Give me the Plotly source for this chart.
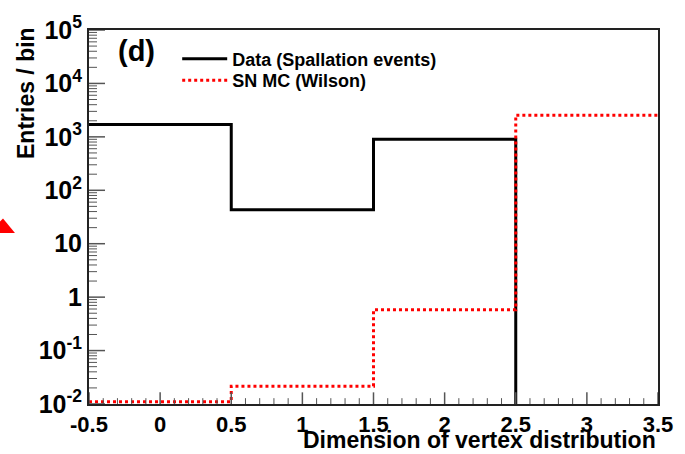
import plotly.graph_objects as go

# ---- data ----
bin_edges = [-0.5, 0.5, 1.5, 2.5, 3.5]
data_counts = [1700, 43, 900, 0]           # Data (Spallation events)
mc_counts = [0.011, 0.0215, 0.58, 2550]    # SN MC (Wilson)
y_tickvals = [1e-2, 1e-1, 1, 10, 1e2, 1e3, 1e4, 1e5]
y_ticktext = ["10<sup>-2</sup>", "10<sup>-1</sup>", "1", "10", "10<sup>2</sup>",
              "10<sup>3</sup>", "10<sup>4</sup>", "10<sup>5</sup>"]
x_tickvals = [-0.5, 0, 0.5, 1, 1.5, 2, 2.5, 3, 3.5]
x_ticktext = ["-0.5", "0", "0.5", "1", "1.5", "2", "2.5", "3", "3.5"]

FLOOR = 1e-4  # empty bins drawn below axis (clipped)


def step(vals):
    v = [c if c > 0 else FLOOR for c in vals]
    return v + [v[-1]]


# minor tick positions (styling only)
x_minor = [round(-0.5 + 0.1 * i, 2) for i in range(41)]
y_minor = [k * 10 ** e for e in range(-2, 5) for k in range(2, 10)]

FONT = "Liberation Sans"
TICKCOL = "#555"
PLOT_W, PLOT_H = 685 - 89 - 27, 454 - 19 - 50

fig = go.Figure()
fig.add_trace(go.Scatter(
    x=bin_edges, y=step(data_counts), mode="lines", line_shape="hv",
    line=dict(color="black", width=3),
    name="Data (Spallation events)", legend="legend"))
fig.add_trace(go.Scatter(
    x=bin_edges, y=step(mc_counts), mode="lines", line_shape="hv",
    line=dict(color="#ff0000", width=3, dash="dot"),
    name="SN MC (Wilson)", legend="legend2"))

leg_common = dict(xanchor="left", yanchor="middle", bgcolor="rgba(0,0,0,0)",
                  font=dict(size=18, family=FONT, weight="bold"), itemwidth=45)

fig.update_layout(
    width=685, height=454,
    margin=dict(l=89, r=27, t=19, b=50),
    paper_bgcolor="white", plot_bgcolor="white",
    font=dict(family=FONT, color="black", weight="bold"),
    showlegend=True,
    legend=dict(x=0.155, y=(404 - 49) / 385, **leg_common),
    legend2=dict(x=0.155, y=(404 - 71) / 385, **leg_common),
    xaxis=dict(range=[-0.5, 3.5], tickmode="array", tickvals=x_tickvals, ticktext=x_ticktext,
               ticks="", showline=True, linecolor="#222", linewidth=2, mirror=True,
               showgrid=False, zeroline=False, ticklabelstandoff=0,
               tickfont=dict(size=22, family=FONT, weight="bold")),
    yaxis=dict(type="log", range=[-2, 5], tickmode="array", tickvals=y_tickvals,
               ticktext=y_ticktext, ticks="",
               showline=True, linecolor="#222", linewidth=2, mirror=True,
               showgrid=False, zeroline=False,
               tickfont=dict(size=25, family=FONT, weight="bold")),
)

# inside tick marks (ROOT style), derived from the tick arrays
# (shape coordinates on a log axis are given in data values)
for v in x_tickvals:
    fig.add_shape(type="line", xref="x", yref="paper", x0=v, x1=v, y0=0, y1=12 / PLOT_H,
                  line=dict(color=TICKCOL, width=1.5), layer="above")
for v in x_minor:
    if v not in x_tickvals:
        fig.add_shape(type="line", xref="x", yref="paper", x0=v, x1=v, y0=0, y1=6 / PLOT_H,
                      line=dict(color=TICKCOL, width=1), layer="above")
for v in y_tickvals:
    fig.add_shape(type="line", xref="paper", yref="y", x0=0, x1=16 / PLOT_W,
                  y0=v, y1=v, line=dict(color=TICKCOL, width=1.5), layer="above")
for v in y_minor:
    fig.add_shape(type="line", xref="paper", yref="y", x0=0, x1=8 / PLOT_W,
                  y0=v, y1=v, line=dict(color=TICKCOL, width=1), layer="above")

# axis titles (ROOT style, aligned to the axis end)
fig.add_annotation(text="Dimension of vertex distribution", xref="paper", yref="paper",
                   x=1.0, y=0, xanchor="right", yanchor="bottom", yshift=-51,
                   showarrow=False, font=dict(size=23, family=FONT, weight="bold"))
fig.add_annotation(text="Entries / bin", xref="paper", yref="paper",
                   x=0, y=1.0, xanchor="right", yanchor="top", xshift=-48, yshift=5,
                   textangle=-90,
                   showarrow=False, font=dict(size=23, family=FONT, weight="bold"))
fig.add_annotation(text="(d)", xref="paper", yref="paper",
                   x=(116 - 89) / 569, y=(404 - 41) / 385, xanchor="left", yanchor="middle",
                   showarrow=False, font=dict(size=29, family=FONT, weight="bold"))

# red triangle marker on the left margin
fig.add_shape(type="path", xref="paper", yref="paper",
              path="M {:.4f} {:.4f} L {:.4f} {:.4f} L {:.4f} {:.4f} Z".format(
                  (-12 - 89) / 569, (404 - 228) / 385,
                  (15 - 89) / 569, (404 - 228) / 385,
                  (3 - 89) / 569, (404 - 213) / 385),
              fillcolor="#ff0000", line=dict(width=0))

fig.write_html("out.html")
